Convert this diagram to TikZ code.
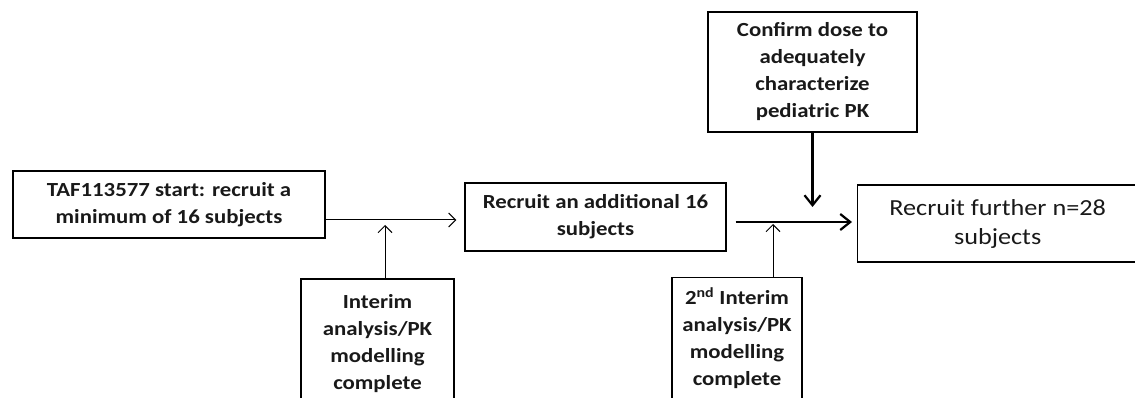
\documentclass[tikz,border=0pt]{standalone}
\usepackage{fontspec}
\setmainfont{Carlito}[FakeStretch=1.14]
\usetikzlibrary{arrows.meta,calc}
\begin{document}
\begin{tikzpicture}[x=1pt,y=-1pt,
  box/.style={draw, line width=1.3pt, align=center, inner sep=0pt,
    font=\bfseries\fontsize{20}{27}\selectfont, text=black!90},
  thickbox/.style={box, line width=2.2pt},
  thinarrow/.style={-{Straight Barb[length=7pt,width=14pt]}, line width=1pt},
  thickarrow/.style={-{Straight Barb[length=10pt,width=16pt]}, line width=2.2pt}]
\useasboundingbox (0,0) rectangle (1135,398);
\clip (0,0) rectangle (1135,398);
\node[thickbox, minimum width=312pt, minimum height=67pt] (b1) at (169,204.5)
  {TAF113577 start: recruit a\\minimum of 16 subjects};
\node[box, minimum width=261pt, minimum height=68pt] (b2) at (595.5,217)
  {Recruit an additional 16\\subjects};
\node[box, minimum width=290pt, minimum height=77pt, anchor=west,
  font=\fontsize{23}{29}\selectfont] (b3) at (857,223.5)
  {\hspace*{-10pt}Recruit further n=28\\\hspace*{-10pt}subjects};
\node[thickbox, minimum width=209pt, minimum height=120pt] (conf) at (812.5,72)
  {Confirm dose to\\adequately\\characterize\\pediatric PK};
\node[thickbox, minimum width=153pt, minimum height=130pt] (int1) at (377.5,344)
  {Interim\\analysis/PK\\modelling\\complete};
\node[box, minimum width=130pt, minimum height=121pt] (int2) at (737,338)
  {2\textsuperscript{nd} Interim\\analysis/PK\\modelling\\complete};
\coordinate (j1) at (385,220);
\coordinate (j2) at (773,222);
\draw[thinarrow] (b1.east |- j1) -- ($(b2.west |- j1)+(-8,0)$);
\draw[thinarrow] (int1.north -| j1) -- ($(j1)+(0,5)$);
\draw[thickarrow] ($(b2.east |- j2)+(9,0)$) -- ($(b3.west |- j2)+(-5,0)$);
\draw[thickarrow] (conf.south) -- ($(conf.south |- j2)+(0,-15)$);
\draw[thinarrow] (int2.north -| j2) -- ($(j2)+(0,2)$);
\end{tikzpicture}
\end{document}
